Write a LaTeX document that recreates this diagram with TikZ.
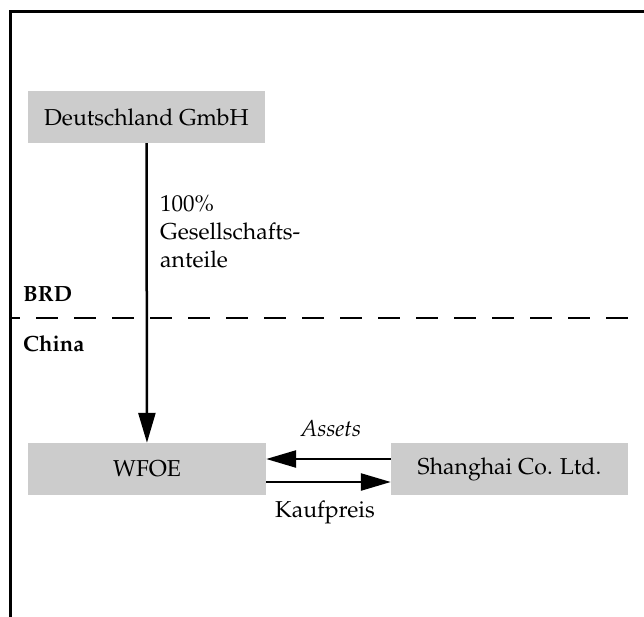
\documentclass[tikz,border=0pt]{standalone}
\usepackage[T1]{fontenc}
\usepackage{mathpazo}
\usetikzlibrary{arrows.meta}
\definecolor{boxgray}{RGB}{204,204,204}
\tikzset{
  entity/.style={fill=boxgray, draw=none, inner sep=0pt, minimum height=52pt,
                 font=\fontsize{23}{27}\selectfont},
  flow/.style={line width=2.5pt, -{Triangle[length=30pt,width=17pt]}},
  lbl/.style={inner sep=0pt, font=\fontsize{23}{28}\selectfont},
  region/.style={lbl, anchor=base west, font=\fontsize{22}{26}\selectfont\bfseries},
}
\begin{document}
\begin{tikzpicture}[x=1pt,y=-1pt]
  \useasboundingbox (0,0) rectangle (644,617);
  % frame
  \draw[line width=3pt] (10,617) -- (10,12) -- (644,12);
  % border between the countries
  \draw[line width=2pt, dash pattern=on 22pt off 16pt, dash phase=12pt] (10,318) -- (644,318);
  \node[region] (brd) at (23,301) {BRD};
  \node[region] (china) at (23,351) {China};
  % companies
  \node[entity, minimum width=237pt] (de) at (146.5,117) {Deutschland GmbH};
  \node[entity, minimum width=238pt] (wfoe) at (147,469) {WFOE};
  \node[entity, minimum width=237pt] (sh) at (509.5,469) {Shanghai Co. Ltd.};
  % shareholding
  \draw[flow] (de) -- (wfoe);
  \node[lbl, anchor=base west] (share) at (160,212)
    {\vtop{\baselineskip=28pt \hbox{100\%}\hbox{Gesellschafts-}\hbox{anteile}}};
  % asset deal
  \draw[flow] (sh.west |- 0,459) -- (wfoe.east |- 0,459);
  \draw[flow] (wfoe.east |- 0,482) -- (sh.west |- 0,482);
  \node[lbl, anchor=base, font=\fontsize{23}{27}\selectfont\itshape] (assets) at (331,436) {Assets};
  \node[lbl, anchor=base] (kauf) at (325,517) {Kaufpreis};
\end{tikzpicture}
\end{document}
